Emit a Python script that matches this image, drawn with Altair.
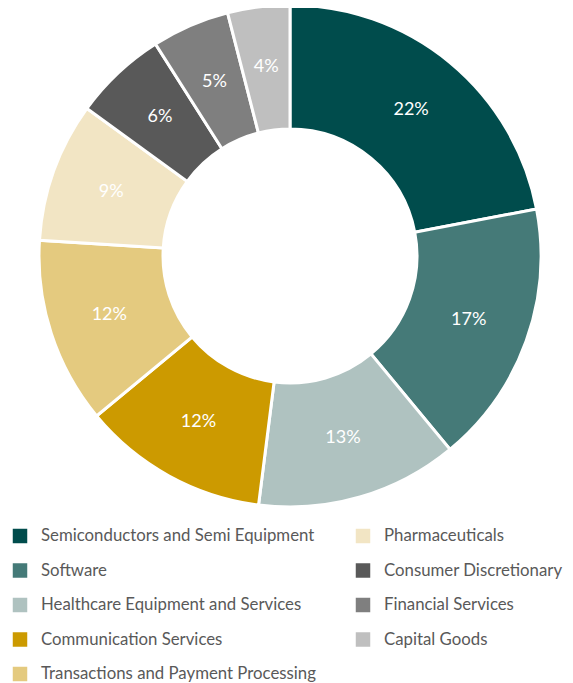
import altair as alt
import pandas as pd

sectors = [
    "Semiconductors and Semi Equipment",
    "Software",
    "Healthcare Equipment and Services",
    "Communication Services",
    "Transactions and Payment Processing",
    "Pharmaceuticals",
    "Consumer Discretionary",
    "Financial Services",
    "Capital Goods",
]
shares = [22, 17, 13, 12, 12, 9, 6, 5, 4]
colors = ["#004C4C", "#457A78", "#AFC2C0", "#CC9A00", "#E4CA7F",
          "#F2E5C4", "#595959", "#7F7F7F", "#BFBFBF"]
legend_col = [0, 0, 0, 0, 0, 1, 1, 1, 1]
legend_row = [0, 1, 2, 3, 4, 0, 1, 2, 3]

df = pd.DataFrame({
    "sector": sectors,
    "share": shares,
    "idx": list(range(len(sectors))),
    "label": [f"{s}%" for s in shares],
    "col": legend_col,
    "row": legend_row,
})

FONT = "Lato"
color_scale = alt.Scale(domain=sectors, range=colors)
cx, cy = 282, 248

base = alt.Chart(df)

arcs = base.mark_arc(innerRadius=127, outerRadius=251, stroke="white", strokeWidth=3).encode(
    theta=alt.Theta("share:Q", stack=True),
    color=alt.Color("sector:N", scale=color_scale, legend=None),
    order=alt.Order("idx:Q"),
    x=alt.value(cx),
    y=alt.value(cy),
)

labels = base.mark_text(radius=190, font=FONT, fontSize=18, color="white").encode(
    theta=alt.Theta("share:Q", stack=True),
    text="label:N",
    order=alt.Order("idx:Q"),
    x=alt.value(cx),
    y=alt.value(cy),
)

xs = alt.X("col:Q", scale=alt.Scale(domain=[0, 1], range=[12, 355]), axis=None)
ys = alt.Y("row:Q", scale=alt.Scale(domain=[0, 4], range=[528, 666]), axis=None)

swatches = base.mark_square(size=210, opacity=1).encode(
    x=xs, y=ys,
    color=alt.Color("sector:N", scale=color_scale, legend=None),
)
leg_text = base.mark_text(align="left", baseline="middle", dx=21, font=FONT,
                          fontSize=16.8, color="#595959").encode(
    x=xs, y=ys, text="sector:N",
)

chart = alt.layer(arcs, labels, swatches, leg_text).properties(
    width=557, height=675,
    autosize=alt.AutoSizeParams(type="none"),
    padding=0,
).configure_view(stroke=None)

chart.save("out.html", embed_options={"renderer": "svg", "actions": False})
